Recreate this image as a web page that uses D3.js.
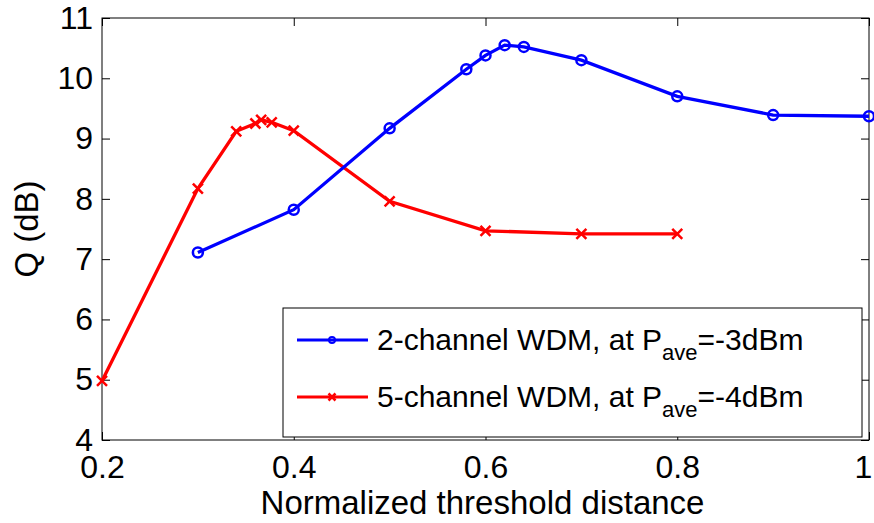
<!DOCTYPE html>
<html lang="en">
<head>
    <meta charset="UTF-8">
    <script src="https://d3js.org/d3.v7.min.js"></script>
    <title>Q vs threshold distance</title>
    <style>
        body { margin: 0; background: #fff; }
        text { font-family: "Liberation Sans", Arial, sans-serif; fill: #000; }
    </style>
</head>
<body>
    <script>
        // values
        var blueX = [0.3, 0.4, 0.5, 0.58, 0.6, 0.62, 0.64, 0.7, 0.8, 0.9, 1.0];
        var blueQ = [7.11, 7.82, 9.17, 10.15, 10.38, 10.55, 10.52, 10.30, 9.70, 9.39, 9.37];
        var redX = [0.2, 0.3, 0.34, 0.36, 0.366, 0.377, 0.4, 0.5, 0.6, 0.7, 0.8];
        var redQ = [4.98, 8.17, 9.12, 9.25, 9.31, 9.27, 9.13, 7.96, 7.47, 7.42, 7.42];
        var xTicks = [0.2, 0.4, 0.6, 0.8, 1];
        var yTicks = [4, 5, 6, 7, 8, 9, 10, 11];
        var legendNames = ["2-channel WDM, at P", "5-channel WDM, at P"];
        var legendPower = ["=-3dBm", "=-4dBm"];

        var width = 874;
        var height = 523;
        // plot box (window.top is read-only, so no plain "top")
        var pLeft = 102, pRight = 869, pTop = 18, pBottom = 440;

        var x = d3.scaleLinear().domain([0.2, 1]).range([pLeft, pRight]);
        var y = d3.scaleLinear().domain([4, 11]).range([pBottom, pTop]);

        var svg = d3.select('body')
                    .append('svg')
                    .attr('width', width)
                    .attr('height', height);

        svg.append('rect')
            .attr('x', pLeft).attr('y', pTop)
            .attr('width', pRight - pLeft).attr('height', pBottom - pTop)
            .attr('fill', 'none').attr('stroke', '#000').attr('stroke-width', 1);

        // ticks point inward, like matlab
        var xAxis = d3.axisBottom(x).tickValues(xTicks).tickSizeInner(-8).tickSizeOuter(0)
                      .tickPadding(15).tickFormat(d3.format('~g'));
        var yAxis = d3.axisLeft(y).tickValues(yTicks).tickSizeInner(-8).tickSizeOuter(0)
                      .tickPadding(9).tickFormat(d3.format('d'));

        var gx = svg.append('g').attr('transform', 'translate(0,' + pBottom + ')').call(xAxis);
        var gy = svg.append('g').attr('transform', 'translate(' + pLeft + ',0)').call(yAxis);
        var gxTop = svg.append('g').attr('transform', 'translate(0,' + pTop + ')')
                       .call(d3.axisTop(x).tickValues(xTicks).tickSizeInner(-8).tickSizeOuter(0).tickFormat(''));
        var gyRight = svg.append('g').attr('transform', 'translate(' + pRight + ',0)')
                       .call(d3.axisRight(y).tickValues(yTicks).tickSizeInner(-8).tickSizeOuter(0).tickFormat(''));

        [gx, gy, gxTop, gyRight].forEach(function(g) {
            g.select('.domain').remove();
            g.selectAll('line').attr('stroke', '#000');
            g.selectAll('text').style('font-size', '32px').attr('fill', '#000');
        });
        // last x label sits at the window edge, nudge it in a bit
        gx.selectAll('.tick text').filter(function(d) { return d === 1; }).attr('x', -6);

        svg.append('text')
            .attr('x', (pLeft + pRight) / 2 - 3).attr('y', 514)
            .attr('text-anchor', 'middle')
            .style('font-size', '33px')
            .text('Normalized threshold distance');

        svg.append('text')
            .attr('transform', 'translate(38,' + ((pTop + pBottom) / 2) + ') rotate(-90)')
            .attr('text-anchor', 'middle')
            .style('font-size', '33px')
            .text('Q (dB)');

        var line = d3.line().x(function(d) { return x(d[0]); }).y(function(d) { return y(d[1]); });
        var blue = d3.zip(blueX, blueQ);
        var red = d3.zip(redX, redQ);

        function crossPath(cx, cy, s) {
            return 'M' + (cx - s) + ',' + (cy - s) + 'L' + (cx + s) + ',' + (cy + s) +
                   'M' + (cx - s) + ',' + (cy + s) + 'L' + (cx + s) + ',' + (cy - s);
        }

        svg.append('path').datum(red)
            .attr('d', line).attr('fill', 'none')
            .attr('stroke', '#ff0000').attr('stroke-width', 3.3);
        svg.selectAll('.xm').data(red).enter().append('path')
            .attr('class', 'xm')
            .attr('d', function(d) { return crossPath(x(d[0]), y(d[1]), 5); })
            .attr('stroke', '#ff0000').attr('stroke-width', 2.5);

        svg.append('path').datum(blue)
            .attr('d', line).attr('fill', 'none')
            .attr('stroke', '#0000ff').attr('stroke-width', 3.3);
        svg.selectAll('.om').data(blue).enter().append('circle')
            .attr('class', 'om')
            .attr('cx', function(d) { return x(d[0]); })
            .attr('cy', function(d) { return y(d[1]); })
            .attr('r', 5)
            .attr('fill', 'none').attr('stroke', '#0000ff').attr('stroke-width', 2.5);

        // legend
        var lg = svg.append('g');
        lg.append('rect')
            .attr('x', 283).attr('y', 308).attr('width', 579).attr('height', 129)
            .attr('fill', '#fff').attr('stroke', '#000').attr('stroke-width', 1);

        var colors = ['#0000ff', '#ff0000'];
        var rows = [340, 397];
        legendNames.forEach(function(name, i) {
            var ly = rows[i];
            lg.append('line')
                .attr('x1', 297).attr('x2', 368).attr('y1', ly).attr('y2', ly)
                .attr('stroke', colors[i]).attr('stroke-width', 3);
            if (i === 0) {
                lg.append('circle').attr('cx', 332).attr('cy', ly).attr('r', 3)
                    .attr('fill', 'none').attr('stroke', colors[i]).attr('stroke-width', 2);
            } else {
                lg.append('path').attr('d', crossPath(332, ly, 3.5))
                    .attr('stroke', colors[i]).attr('stroke-width', 2.5);
            }
            var t = lg.append('text').attr('x', 377).attr('y', ly + 10).style('font-size', '30px');
            t.append('tspan').text(name);
            t.append('tspan').attr('dy', 10).style('font-size', '22px').text('ave');
            t.append('tspan').attr('dy', -10).text(legendPower[i]);
        });
    </script>
</body>
</html>
